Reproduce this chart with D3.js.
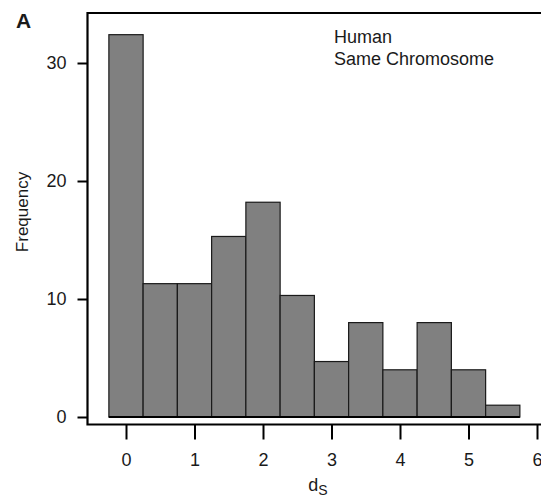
<!DOCTYPE html>
<html><head><meta charset="utf-8">
<script src="https://cdn.jsdelivr.net/npm/d3@7"></script>
<style>body{margin:0;background:#fff}svg{display:block}text{font-family:"Liberation Sans",Arial,sans-serif;fill:#1a1a1a}</style>
</head><body>
<svg id="c" width="541" height="498"></svg>
<script>
const binCenters = [0, 0.5, 1, 1.5, 2, 2.5, 3, 3.5, 4, 4.5, 5, 5.5];
const frequencies = [32.4, 11.3, 11.3, 15.3, 18.2, 10.3, 4.7, 8.0, 4.0, 8.0, 4.0, 1.0];
const binWidth = 0.5;
const xTicks = [0, 1, 2, 3, 4, 5, 6];
const yTicks = [0, 10, 20, 30];
const legendLines = ["Human", "Same Chromosome"];

const svg = d3.select("#c");
const x = d3.scaleLinear().domain([0, 6]).range([126, 537]);
const y = d3.scaleLinear().domain([0, 30]).range([417, 63]);

// frame
const fr = {l: 87.5, t: 13, r: 545, b: 424.5};
svg.append("path").attr("d", `M${fr.r},${fr.t}H${fr.l}V${fr.b}H${fr.r}`)
  .attr("fill", "none").attr("stroke", "#000").attr("stroke-width", 2.2);

// bars
svg.append("g").selectAll("rect").data(binCenters).join("rect")
  .attr("x", d => x(d - binWidth / 2))
  .attr("width", d => x(d + binWidth / 2) - x(d - binWidth / 2))
  .attr("y", (d, i) => y(frequencies[i]))
  .attr("height", (d, i) => y(0) - y(frequencies[i]))
  .attr("fill", "#808080").attr("stroke", "#1a1a1a").attr("stroke-width", 1.2);

// baseline under bars
svg.append("line")
  .attr("x1", x(binCenters[0] - binWidth / 2)).attr("x2", x(binCenters[binCenters.length - 1] + binWidth / 2))
  .attr("y1", y(0)).attr("y2", y(0)).attr("stroke", "#000").attr("stroke-width", 2);

// y axis ticks
const yAxis = d3.axisLeft(y).tickValues(yTicks).tickSize(10).tickPadding(11).tickFormat(d3.format("d"));
const gy = svg.append("g").attr("transform", `translate(${fr.l},0)`).call(yAxis);
gy.select(".domain").remove();
gy.selectAll(".tick line").attr("stroke", "#000").attr("stroke-width", 2);
gy.selectAll(".tick text").attr("font-size", 18).attr("font-family", "Liberation Sans, Arial, sans-serif").attr("fill", "#1a1a1a");

// x axis ticks
const xAxis = d3.axisBottom(x).tickValues(xTicks).tickSize(15).tickPadding(14).tickFormat(d3.format("d"));
const gx = svg.append("g").attr("transform", `translate(0,${fr.b})`).call(xAxis);
gx.select(".domain").remove();
gx.selectAll(".tick line").attr("stroke", "#000").attr("stroke-width", 2);
gx.selectAll(".tick text").attr("font-size", 18).attr("font-family", "Liberation Sans, Arial, sans-serif").attr("fill", "#1a1a1a");

// axis titles
svg.append("text").attr("transform", "translate(28,212) rotate(-90)").attr("text-anchor", "middle")
  .attr("font-size", 17).text("Frequency");
const xt = svg.append("text").attr("x", 318).attr("y", 491).attr("text-anchor", "middle").attr("font-size", 18);
xt.append("tspan").text("d");
xt.append("tspan").attr("font-size", 14).attr("dy", 4).text("S");

// panel label
svg.append("text").attr("x", 16).attr("y", 28).attr("font-size", 21).attr("font-weight", "bold").attr("fill", "#000").text("A");

// legend text
svg.append("g").selectAll("text").data(legendLines).join("text")
  .attr("x", 334).attr("y", (d, i) => 43 + i * 22).attr("font-size", 18).text(d => d);
</script>
</body></html>
